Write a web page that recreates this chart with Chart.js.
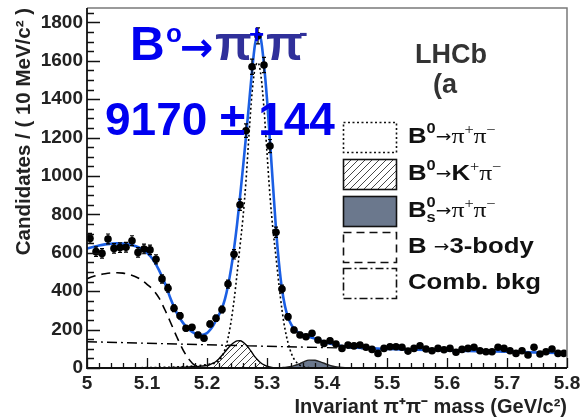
<!DOCTYPE html>
<html>
<head>
<meta charset="utf-8">
<script src="https://cdn.jsdelivr.net/npm/chart.js@4.4.1/dist/chart.umd.min.js"></script>
<style>
  html, body { margin: 0; padding: 0; background: #fff; }
</style>
</head>
<body>
<canvas id="chart" width="580" height="420"></canvas>
<script>
// B0 -> pi+ pi- invariant mass fit, LHCb style (ROOT look)

// candidates per 10 MeV bin, 5.00 - 5.80 GeV/c2
const binStart = 5.0
const binWidth = 0.01
const candidates = [
  675, 606, 597, 672, 623, 627, 629, 663, 602, 620,
  615, 566, 464, 415, 311, 272, 207, 212, 172, 155,
  229, 259, 305, 437, 592, 850, 1236, 1569, 1730, 1578,
  1156, 707, 411, 267, 198, 172, 163, 181, 146, 128,
  142, 125, 102, 120, 115, 120, 108, 97, 76, 102,
  111, 111, 108, 88, 102, 116, 99, 90, 102, 95,
  102, 82, 97, 102, 108, 90, 85, 85, 108, 102,
  90, 76, 90, 68, 108, 73, 85, 99, 76, 76,
]

// total fit (blue)
const fitMass = [
  5.00, 5.01, 5.02, 5.03, 5.04, 5.05, 5.06, 5.07, 5.08, 5.09,
  5.10, 5.11, 5.12, 5.13, 5.14, 5.15, 5.16, 5.17, 5.18, 5.19,
  5.20, 5.205, 5.21, 5.215, 5.22, 5.225, 5.23, 5.235, 5.24, 5.245,
  5.25, 5.255, 5.26, 5.265, 5.27, 5.275, 5.28, 5.285, 5.29, 5.295,
  5.30, 5.305, 5.31, 5.315, 5.32, 5.325, 5.33, 5.335, 5.34, 5.345,
  5.35, 5.355, 5.36, 5.37, 5.38, 5.39, 5.40, 5.41, 5.42, 5.43,
  5.44, 5.45, 5.50, 5.55, 5.60, 5.65, 5.70, 5.75, 5.80,
]
const fitTotal = [
  622, 630, 638, 644, 647, 649, 648, 643, 635, 622,
  600, 565, 510, 440, 355, 285, 235, 200, 180, 172,
  182, 198, 220, 248, 278, 312, 360, 428, 515, 620,
  745, 890, 1045, 1205, 1375, 1545, 1685, 1742, 1710, 1580,
  1400, 1180, 950, 725, 545, 410, 322, 265, 228, 205,
  190, 180, 172, 163, 153, 142, 132, 124, 117, 112,
  108, 106, 99, 95, 91, 88, 85, 81, 78,
]

// B0 -> pi+ pi- signal (dotted)
const sigMass = [
  5.00, 5.05, 5.10, 5.12, 5.14, 5.16, 5.18, 5.19, 5.20, 5.205,
  5.21, 5.215, 5.22, 5.225, 5.23, 5.235, 5.24, 5.245, 5.25, 5.255,
  5.26, 5.265, 5.27, 5.275, 5.28, 5.285, 5.29, 5.295, 5.30, 5.305,
  5.31, 5.315, 5.32, 5.325, 5.33, 5.335, 5.34, 5.345, 5.35, 5.355,
  5.36, 5.37, 5.38, 5.80,
]
const sigB0 = [
  1, 1, 2, 3, 4, 7, 11, 14, 18, 20,
  23, 28, 38, 60, 97, 155, 240, 350, 488, 635,
  785, 975, 1215, 1430, 1560, 1590, 1520, 1350, 1120, 895,
  720, 578, 432, 302, 202, 132, 81, 47, 27, 14,
  7, 2, 0, 0,
]

// B0 -> K+ pi- misidentified (hatched)
const kpiMass = [
  5.10, 5.15, 5.17, 5.19, 5.20, 5.205, 5.21, 5.215, 5.22, 5.225,
  5.23, 5.235, 5.24, 5.245, 5.25, 5.255, 5.26, 5.265, 5.27, 5.275,
  5.28, 5.285, 5.29, 5.295, 5.30, 5.305, 5.31, 5.32, 5.33, 5.80,
]
const kpiB0 = [
  1, 3, 6, 10, 13, 18, 25, 34, 48, 66,
  84, 103, 120, 133, 141, 142, 135, 121, 102, 80,
  58, 40, 26, 16, 9, 5, 2, 1, 0, 0,
]

// Bs -> pi+ pi- (filled)
const bsMass = [
  5.30, 5.31, 5.32, 5.325, 5.33, 5.335, 5.34, 5.345, 5.35, 5.355,
  5.36, 5.37, 5.38, 5.39, 5.40, 5.41, 5.42, 5.43, 5.44, 5.80,
]
const bsPiPi = [
  0, 0.5, 1, 2, 3, 5, 8, 12, 17, 23,
  30, 41, 40, 31, 19, 9, 4, 1, 0, 0,
]

// partially reconstructed B -> 3-body (dashed)
const threeBodyMass = [
  5.00, 5.01, 5.02, 5.03, 5.04, 5.05, 5.06, 5.07, 5.08, 5.09, 5.10,
  5.11, 5.12, 5.13, 5.14, 5.15, 5.16, 5.17, 5.18, 5.19, 5.20, 5.21,
]
const threeBody = [
  465, 476, 485, 491, 495, 496, 494, 488, 477, 460, 436,
  408, 365, 302, 232, 160, 95, 45, 13, 2, 0, 0,
]

// combinatorial background (dash-dot)
const combMass = [5.0, 5.1, 5.2, 5.3, 5.4, 5.5, 5.6, 5.7, 5.8]
const comb = [137, 129, 121, 113, 106, 98, 91, 84, 77]

const xTicks = [5, 5.1, 5.2, 5.3, 5.4, 5.5, 5.6, 5.7, 5.8]
const xTickLabels = ["5", "5.1", "5.2", "5.3", "5.4", "5.5", "5.6", "5.7", "5.8"]
const yTicks = [0, 200, 400, 600, 800, 1000, 1200, 1400, 1600, 1800]
const yTickLabels = ["0", "200", "400", "600", "800", "1000", "1200", "1400", "1600", "1800"]

const SANS = "'Liberation Sans', Arial, Helvetica, sans-serif"
const SERIF = "'Liberation Serif', 'Times New Roman', serif"
const ARROW = "'DejaVu Sans', sans-serif"
const BLUE = "#0000f0"
const NAVY = "#30309a"
const SLATE = "#6b788d"

const pts = (xs, ys) => xs.map((x, i) => ({ x, y: ys[i] }))
const binCentre = i => binStart + binWidth * (i + 0.5)

function hatchPattern() {
  const c = document.createElement("canvas")
  c.width = 7
  c.height = 7
  const g = c.getContext("2d")
  g.strokeStyle = "#333"
  g.lineWidth = 0.9
  g.beginPath()
  g.moveTo(-1, 8); g.lineTo(8, -1)
  g.moveTo(-1, 1); g.lineTo(1, -1)
  g.moveTo(6, 8); g.lineTo(8, 6)
  g.stroke()
  return g.createPattern(c, "repeat")
}
const hatch = hatchPattern()

// poisson error bars on the data points
const errorBars = {
  id: "errorBars",
  afterDatasetsDraw(chart) {
    const { ctx, scales: { x, y } } = chart
    ctx.save()
    ctx.strokeStyle = "#000"
    ctx.lineWidth = 1.2
    ctx.beginPath()
    candidates.forEach((n, i) => {
      const px = x.getPixelForValue(binCentre(i))
      const err = Math.sqrt(n)
      const top = y.getPixelForValue(n + err)
      const bot = y.getPixelForValue(n - err)
      ctx.moveTo(px, top); ctx.lineTo(px, bot)
      ctx.moveTo(px - 2, top); ctx.lineTo(px + 2, top)
      ctx.moveTo(px - 2, bot); ctx.lineTo(px + 2, bot)
    })
    ctx.stroke()
    ctx.restore()
  },
}

// ROOT style frame with inward ticks
const rootFrame = {
  id: "rootFrame",
  afterDatasetsDraw(chart) {
    const { ctx, chartArea: a, scales: { x, y } } = chart
    ctx.save()
    ctx.lineWidth = 1.5
    ctx.strokeStyle = "#7a7a7a"
    ctx.beginPath()
    ctx.moveTo(a.left, a.top); ctx.lineTo(a.right, a.top); ctx.lineTo(a.right, a.bottom)
    ctx.stroke()
    ctx.strokeStyle = "#111"
    ctx.lineWidth = 1.8
    ctx.beginPath()
    ctx.moveTo(a.left, a.top); ctx.lineTo(a.left, a.bottom); ctx.lineTo(a.right, a.bottom)
    ctx.stroke()
    ctx.lineWidth = 1.3
    ctx.beginPath()
    for (let v = 0; v <= y.max; v += 50) {
      const py = Math.round(y.getPixelForValue(v)) + 0.5
      const len = v % 200 === 0 ? 13 : 7
      ctx.moveTo(a.left, py); ctx.lineTo(a.left + len, py)
    }
    for (let k = 0; k <= 40; k++) {
      const px = Math.round(x.getPixelForValue(5 + k * 0.02)) + 0.5
      const len = k % 5 === 0 ? 10 : 5
      ctx.moveTo(px, a.bottom); ctx.lineTo(px, a.bottom - len)
    }
    ctx.stroke()
    ctx.restore()
  },
}

function flow(ctx, x0, base, parts) {
  ctx.save()
  ctx.translate(x0, base)
  ctx.scale(1.17, 1)
  ctx.fillStyle = "#111"
  let x = 0
  for (const [text, font, dy, stay] of parts) {
    ctx.font = font
    ctx.fillText(text, x, dy)
    if (!stay) x += ctx.measureText(text).width
  }
  ctx.restore()
}

const annotations = {
  id: "annotations",
  afterDraw(chart) {
    const ctx = chart.ctx
    ctx.save()
    ctx.textBaseline = "alphabetic"
    ctx.textAlign = "left"

    // big title
    const big = [
      ["B", `bold 48px ${SANS}`, BLUE, 130, 60],
      ["o", `bold 26px ${SANS}`, BLUE, 166, 42],
      ["→", `bold 40px ${ARROW}`, BLUE, 180, 61],
      ["π", `bold 48px ${SANS}`, NAVY, 215, 60],
      ["+", `bold 26px ${SANS}`, BLUE, 249, 43],
      ["π", `bold 48px ${SANS}`, NAVY, 266, 60],
      ["-", `bold 26px ${SANS}`, NAVY, 299, 41],
    ]
    for (const [t, f, c, x, y] of big) {
      ctx.font = f
      ctx.fillStyle = c
      ctx.fillText(t, x, y)
    }
    ctx.font = `bold 46px ${SANS}`
    ctx.fillStyle = BLUE
    ctx.fillText("9170 ± 144", 105, 135)

    ctx.font = `bold 27px ${SANS}`
    ctx.fillStyle = "#333"
    ctx.fillText("LHCb", 415, 63)
    ctx.fillText("(a", 433, 93)

    // legend boxes
    const boxX = 343.5, boxW = 53, boxH = 30
    const rows = [122, 159, 196, 232, 268]
    const styles = [
      { dash: [2, 2.5] },
      { fill: hatch },
      { fill: SLATE },
      { dash: [8, 5] },
      { dash: [8, 3, 2, 3] },
    ]
    rows.forEach((top, i) => {
      const s = styles[i]
      ctx.save()
      if (s.fill) {
        ctx.fillStyle = s.fill
        ctx.fillRect(boxX, top + 0.5, boxW, boxH)
      }
      ctx.lineWidth = 1.6
      ctx.strokeStyle = "#111"
      ctx.setLineDash(s.dash || [])
      ctx.strokeRect(boxX, top + 0.5, boxW, boxH)
      ctx.restore()
    })

    const b = `bold 22px ${SANS}`
    const sup = `bold 14px ${SANS}`
    const arr = `16px ${ARROW}`
    const pi = `22px ${SERIF}`
    const sg = `14px ${SERIF}`
    const lx = 408
    flow(ctx, lx, rows[0] + 21, [["B", b, 0], ["0", sup, -10], ["→", arr, -1], ["π", pi, 0], ["+", sg, -9], ["π", pi, 0], ["−", sg, -9]])
    flow(ctx, lx, rows[1] + 21, [["B", b, 0], ["0", sup, -10], ["→", arr, -1], ["K", b, 0], ["+", sg, -9], ["π", pi, 0], ["−", sg, -9]])
    flow(ctx, lx, rows[2] + 21, [["B", b, 0], ["0", sup, -10, true], ["s", sup, 5], ["→", arr, -1], ["π", pi, 0], ["+", sg, -9], ["π", pi, 0], ["−", sg, -9]])
    flow(ctx, lx, rows[3] + 21, [["B ", b, 0], ["→", arr, -1], ["3-body", b, 0]])
    flow(ctx, lx, rows[4] + 21, [["Comb. bkg", b, 0]])
    ctx.restore()
  },
}

const curve = {
  showLine: true,
  pointRadius: 0,
  cubicInterpolationMode: "monotone",
  borderColor: "#000",
  borderWidth: 1.6,
  fill: false,
}

new Chart(document.getElementById("chart"), {
  type: "scatter",
  data: {
    datasets: [
      {
        label: "Data",
        data: candidates.map((n, i) => ({ x: binCentre(i), y: n })),
        showLine: false,
        pointRadius: 3.8,
        pointBackgroundColor: "#000",
        pointBorderWidth: 0,
        order: 0,
      },
      { ...curve, label: "Fit", data: pts(fitMass, fitTotal), borderColor: "#1b5fe4", borderWidth: 2.6, order: 1 },
      { ...curve, label: "B0→π+π−", data: pts(sigMass, sigB0), borderDash: [2, 2.5], order: 3 },
      { ...curve, label: "B→3-body", data: pts(threeBodyMass, threeBody), borderDash: [9, 6], order: 4 },
      { ...curve, label: "Comb. bkg", data: pts(combMass, comb), borderDash: [10, 4, 2, 4], borderWidth: 1.4, order: 4 },
      { ...curve, label: "B0→K+π−", data: pts(kpiMass, kpiB0), fill: "origin", backgroundColor: hatch, borderWidth: 1.4, order: 5 },
      { ...curve, label: "Bs→π+π−", data: pts(bsMass, bsPiPi), fill: "origin", backgroundColor: SLATE, borderColor: "#222", borderWidth: 1.4, order: 6 },
    ],
  },
  plugins: [errorBars, rootFrame, annotations],
  options: {
    responsive: false,
    devicePixelRatio: 1,
    animation: false,
    events: [],
    layout: { padding: { left: 0, right: 13, top: 8, bottom: 0 } },
    plugins: {
      legend: { display: false },
      tooltip: { enabled: false },
    },
    scales: {
      x: {
        type: "linear",
        position: "bottom",
        min: 5,
        max: 5.8,
        bounds: "data",
        grid: { display: false, drawTicks: false },
        border: { display: false },
        afterBuildTicks: s => { s.ticks = xTicks.map(v => ({ value: v })) },
        afterFit: s => { s.height = 52; s.paddingLeft = 0; s.paddingRight = 0 },
        ticks: {
          autoSkip: false,
          maxRotation: 0,
          padding: 4,
          color: "#222",
          font: { family: SANS, size: 19, weight: "bold" },
          callback: (v, i) => xTickLabels[i],
        },
        title: {
          display: true,
          text: "Invariant π⁺π⁻ mass (GeV/c²)",
          align: "end",
          color: "#222",
          font: { family: SANS, size: 20, weight: "bold" },
          padding: { top: 0, bottom: 1 },
        },
      },
      y: {
        type: "linear",
        min: 0,
        max: 1875,
        bounds: "data",
        grid: { display: false, drawTicks: false },
        border: { display: false },
        afterBuildTicks: s => { s.ticks = yTicks.map(v => ({ value: v })) },
        afterFit: s => { s.width = 87; s.paddingTop = 0; s.paddingBottom = 0 },
        ticks: {
          autoSkip: false,
          padding: 4,
          color: "#222",
          font: { family: SANS, size: 19, weight: "bold" },
          callback: (v, i) => yTickLabels[i],
        },
        title: {
          display: true,
          text: "Candidates / ( 10 MeV/c² )",
          align: "end",
          color: "#222",
          font: { family: SANS, size: 20.5, weight: "bold" },
          padding: { top: 12, bottom: 0 },
        },
      },
    },
  },
})
</script>
</body>
</html>
